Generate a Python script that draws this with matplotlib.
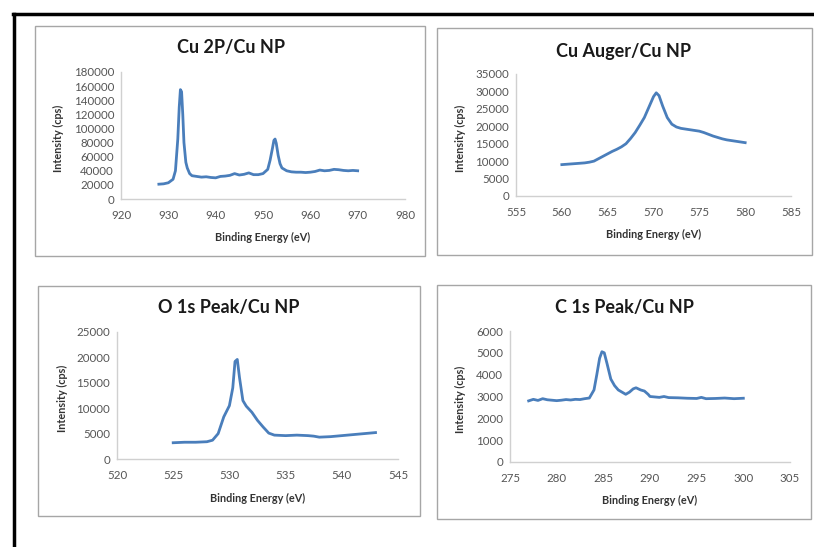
import matplotlib
matplotlib.use("Agg")
import matplotlib.pyplot as plt
from matplotlib.patches import Rectangle
from matplotlib.lines import Line2D

plt.rcParams['font.family'] = ['Lato', 'DejaVu Sans']

# Cu 2P
cu2p_x = [928, 929, 930, 931, 931.5, 932, 932.3, 932.55, 932.8, 933.05, 933.3, 933.7, 934, 934.5,
          935, 936, 937, 938, 939, 940, 941, 942, 943, 944, 945, 946, 947, 948, 949, 950, 951, 951.5,
          952, 952.3, 952.55, 952.8, 953.2, 953.6, 954, 955, 956, 957, 958, 959, 960, 961, 962, 963,
          964, 965, 966, 967, 968, 969, 970]
cu2p_y = [21000, 21500, 23000, 28000, 40000, 85000, 130000, 155000, 152000, 120000, 80000, 52000,
          44000, 36000, 33000, 32000, 31000, 31500, 30500, 30000, 32000, 32500, 33500, 36000, 34000,
          35000, 37000, 34500, 34500, 36000, 42000, 55000, 72000, 83000, 85000, 79000, 62000, 50000,
          44000, 40000, 38500, 38000, 38000, 37500, 38000, 39000, 41000, 40000, 40500, 42000, 41500,
          40500, 40000, 40500, 40000]

# Cu Auger
aug_x = [560, 560.5, 561, 561.5, 562, 562.5, 563, 563.5, 564, 564.5, 565, 565.5, 566, 566.5, 567,
         567.5, 568, 568.5, 569, 569.5, 570, 570.3, 570.6, 571, 571.5, 572, 572.5, 573, 573.5, 574,
         574.5, 575, 575.5, 576, 576.5, 577, 577.5, 578, 578.5, 579, 579.5, 580]
aug_y = [9000, 9100, 9200, 9300, 9400, 9500, 9700, 10000, 10700, 11400, 12100, 12800, 13400, 14100,
         15000, 16500, 18200, 20300, 22500, 25500, 28500, 29600, 28800, 25800, 22500, 20600, 19800,
         19400, 19200, 19000, 18800, 18600, 18200, 17700, 17200, 16800, 16400, 16100, 15900, 15700,
         15500, 15300]

# O 1s
o1s_x = [525, 526, 527, 528, 528.5, 529, 529.5, 530, 530.3, 530.5, 530.7, 530.9, 531.2, 531.5, 532,
         532.5, 533, 533.5, 534, 535, 536, 537, 537.5, 538, 539, 540, 541, 542, 543]
o1s_y = [3200, 3300, 3300, 3400, 3700, 5000, 8300, 10500, 14000, 19200, 19600, 16000, 11500, 10400,
         9200, 7600, 6300, 5100, 4700, 4600, 4700, 4600, 4500, 4300, 4400, 4600, 4800, 5000, 5200]

# C 1s
c1s_x = [277, 277.5, 278, 278.5, 279, 279.5, 280, 280.5, 281, 281.5, 282, 282.5, 283, 283.5, 284,
         284.3, 284.6, 284.85, 285.1, 285.4, 285.8, 286.2, 286.6, 287, 287.4, 287.8, 288.2, 288.5, 289,
         289.4, 289.8, 290, 290.5, 291, 291.5, 292, 293, 294, 295, 295.5, 296, 297, 298, 299, 300]
c1s_y = [2800, 2870, 2820, 2900, 2850, 2830, 2810, 2830, 2860, 2840, 2870, 2860, 2900, 2930, 3300,
         4000, 4750, 5050, 5000, 4500, 3800, 3500, 3300, 3200, 3100, 3200, 3350, 3400, 3300, 3250,
         3100, 3000, 2980, 2960, 3000, 2950, 2940, 2920, 2910, 2960, 2900, 2910, 2930, 2900, 2920]

W, H = 814, 547
fig = plt.figure(figsize=(W / 100, H / 100), dpi=100)


def fx(px):
    return px / W


def fy(py):
    return 1 - py / H


# outer frame (top + left)
fig.add_artist(Line2D([fx(13), 1], [fy(14), fy(14)], color='black', lw=2.5))
fig.add_artist(Line2D([fx(14), fx(14)], [fy(14), 0], color='black', lw=2.5))

panels = [
    # title, x, y, xlim, ylim, ystep, box(l,t,r,b), axes(l,t,r,b), title pos, ylabel x, xlabel y
    ("Cu 2P/Cu NP", cu2p_x, cu2p_y, (920, 980), (0, 180000), 20000,
     (35, 26, 425, 256), (121, 72, 405, 199), (231, 47), 58, 237),
    ("Cu Auger/Cu NP", aug_x, aug_y, (555, 585), (0, 35000), 5000,
     (437, 28, 812, 255), (516, 74, 791, 196), (624, 52), 460, 234),
    ("O 1s Peak/Cu NP", o1s_x, o1s_y, (520, 545), (0, 25000), 5000,
     (38, 286, 420, 516), (117, 332, 398, 459), (229, 307), 62, 498),
    ("C 1s Peak/Cu NP", c1s_x, c1s_y, (275, 305), (0, 6000), 1000,
     (437, 285, 811, 519), (510, 331, 790, 462), (624, 307), 460, 500),
]

for title, xs, ys, xlim, ylim, ystep, box, axp, tpos, ylx, xly in panels:
    bl, bt, br, bb = box
    fig.add_artist(Rectangle((fx(bl), fy(bb)), fx(br - bl), (bb - bt) / H,
                             fill=False, edgecolor='#a6a6a6', lw=1.0))
    al, at, ar, ab = axp
    ax = fig.add_axes([fx(al), fy(ab), fx(ar - al), (ab - at) / H])
    ax.plot(xs, ys, color='#4a7ebb', lw=2.0, solid_joinstyle='round')
    ax.set_xlim(*xlim)
    ax.set_ylim(*ylim)
    ax.set_xticks(range(xlim[0], xlim[1] + 1, 10 if xlim[1] - xlim[0] > 30 else 5))
    ax.set_yticks(range(ylim[0], ylim[1] + 1, ystep))
    for s in ['top', 'right']:
        ax.spines[s].set_visible(False)
    for s in ['left', 'bottom']:
        ax.spines[s].set_color('#d0d0d0')
        ax.spines[s].set_linewidth(1.0)
    ax.tick_params(length=0, labelsize=8.3, labelcolor='#555555')
    ax.tick_params(axis='x', pad=8)
    ax.tick_params(axis='y', pad=5)
    ax.set_facecolor('none')
    fig.text(fx(tpos[0]), fy(tpos[1]), title, ha='center', va='center',
             fontsize=13, fontweight='bold', color='#1a1a1a')
    fig.text(fx(ylx), fy((at + ab) / 2 + 3), "Intensity (cps)", rotation=90, ha='center',
             va='center', fontsize=7.8, fontweight='bold', color='#333333')
    fig.text(fx((al + ar) / 2), fy(xly), "Binding Energy (eV)", ha='center', va='center',
             fontsize=7.8, fontweight='bold', color='#333333')

fig.savefig("out.png", dpi=100)
